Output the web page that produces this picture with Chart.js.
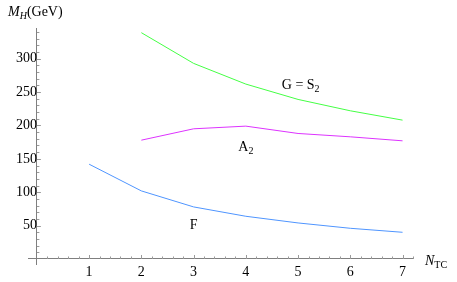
<!DOCTYPE html>
<html>
<head>
<meta charset="utf-8">
<script src="https://cdn.jsdelivr.net/npm/chart.js@4"></script>
<style>
  html, body { margin: 0; padding: 0; background: #fff; }
  #wrap { width: 457px; height: 282px; }
</style>
</head>
<body>
<div id="wrap"><canvas id="myChart" width="457" height="282"></canvas></div>
<script>
// N_TC values
const nTC = [1, 2, 3, 4, 5, 6, 7];
// masses in GeV
const valoresF = [142, 102, 78, 64, 54, 46, 40];
const valoresA2 = [null, 178, 195, 199, 188, 183, 177];
const valoresG = [null, 339, 293, 262, 239, 222, 208];

const ticksX = [1, 2, 3, 4, 5, 6, 7];
const ticksY = [50, 100, 150, 200, 250, 300];

const colorEje = "#7f7f7f";
const fuente = "'Liberation Serif', 'Times New Roman', serif";

function serie(valores, color) {
  return {
    data: nTC.map((x, i) => ({ x: x, y: valores[i] })).filter((p) => p.y !== null),
    borderColor: color,
    borderWidth: 1,
    pointRadius: 0,
    fill: false,
    tension: 0,
  };
}

// draws a label with a subscript part
function texto(ctx, partes, x, y, align) {
  let ancho = 0;
  partes.forEach((p) => {
    ctx.font = p.font;
    ancho += ctx.measureText(p.t).width;
  });
  let cx = align === "center" ? x - ancho / 2 : x;
  ctx.textBaseline = "alphabetic";
  ctx.textAlign = "left";
  partes.forEach((p) => {
    ctx.font = p.font;
    ctx.fillText(p.t, cx, y + (p.dy || 0));
    cx += ctx.measureText(p.t).width;
  });
}

const ejesMathematica = {
  id: "ejesMathematica",
  afterDraw(chart) {
    const ctx = chart.ctx;
    const sx = chart.scales.x;
    const sy = chart.scales.y;
    const x0 = sx.getPixelForValue(0);
    const y0 = sy.getPixelForValue(0);
    ctx.save();
    ctx.strokeStyle = "#9a9a9a";
    ctx.lineWidth = 1;
    ctx.beginPath();
    // x ticks (pointing up)
    for (let v = 0.2; v <= 7.2001; v += 0.2) {
      const px = Math.round(sx.getPixelForValue(v)) + 0.5;
      const major = Math.abs(v - Math.round(v)) < 1e-6;
      ctx.moveTo(px, y0);
      ctx.lineTo(px, y0 - (major ? 4 : 2.5));
    }
    // y ticks (pointing right)
    for (let v = 10; v <= 345; v += 10) {
      const py = Math.round(sy.getPixelForValue(v)) + 0.5;
      const major = v % 50 === 0;
      ctx.moveTo(x0, py);
      ctx.lineTo(x0 + (major ? 4 : 2.5), py);
    }
    ctx.stroke();

    ctx.fillStyle = "#000";
    // axis titles
    texto(ctx, [
      { t: "M", font: "italic 14px " + fuente },
      { t: "H", font: "italic 10px " + fuente, dy: 3 },
      { t: "(GeV)", font: "14px " + fuente },
    ], 8, 16, "left");
    texto(ctx, [
      { t: "N", font: "italic 14px " + fuente },
      { t: "TC", font: "10px " + fuente, dy: 3 },
    ], 425, 265, "left");

    // curve labels
    texto(ctx, [
      { t: "G = S", font: "14px " + fuente },
      { t: "2", font: "10px " + fuente, dy: 3 },
    ], sx.getPixelForValue(5.05), sy.getPixelForValue(255), "center");
    texto(ctx, [
      { t: "A", font: "14px " + fuente },
      { t: "2", font: "10px " + fuente, dy: 3 },
    ], sx.getPixelForValue(4.0), sy.getPixelForValue(162), "center");
    texto(ctx, [
      { t: "F", font: "14px " + fuente },
    ], sx.getPixelForValue(3.0), sy.getPixelForValue(45), "center");
    ctx.restore();
  },
};

const ctx = document.getElementById("myChart").getContext("2d");
let chart = new Chart(ctx, {
  type: "line",
  data: {
    datasets: [
      serie(valoresG, "#44ff44"),
      serie(valoresA2, "#dd33ff"),
      serie(valoresF, "#4f95ff"),
    ],
  },
  options: {
    responsive: false,
    animation: false,
    layout: { padding: { left: 28, right: 44, top: 28, bottom: 18 } },
    plugins: { legend: { display: false }, tooltip: { enabled: false } },
    scales: {
      x: {
        type: "linear",
        position: { y: 0 },
        min: -0.17,
        max: 7.2,
        afterBuildTicks: (s) => { s.ticks = ticksX.map((v) => ({ value: v })); },
        grid: { display: false, drawTicks: false },
        border: { display: true, color: colorEje, width: 1 },
        ticks: { color: "#000", padding: 5, font: { family: fuente, size: 14 }, maxRotation: 0 },
      },
      y: {
        type: "linear",
        position: { x: 0 },
        min: -7.5,
        max: 346,
        afterBuildTicks: (s) => { s.ticks = ticksY.map((v) => ({ value: v })); },
        grid: { display: false, drawTicks: false },
        border: { display: true, color: colorEje, width: 1 },
        ticks: { color: "#000", padding: 6, font: { family: fuente, size: 14 } },
      },
    },
  },
  plugins: [ejesMathematica],
});
</script>
</body>
</html>
